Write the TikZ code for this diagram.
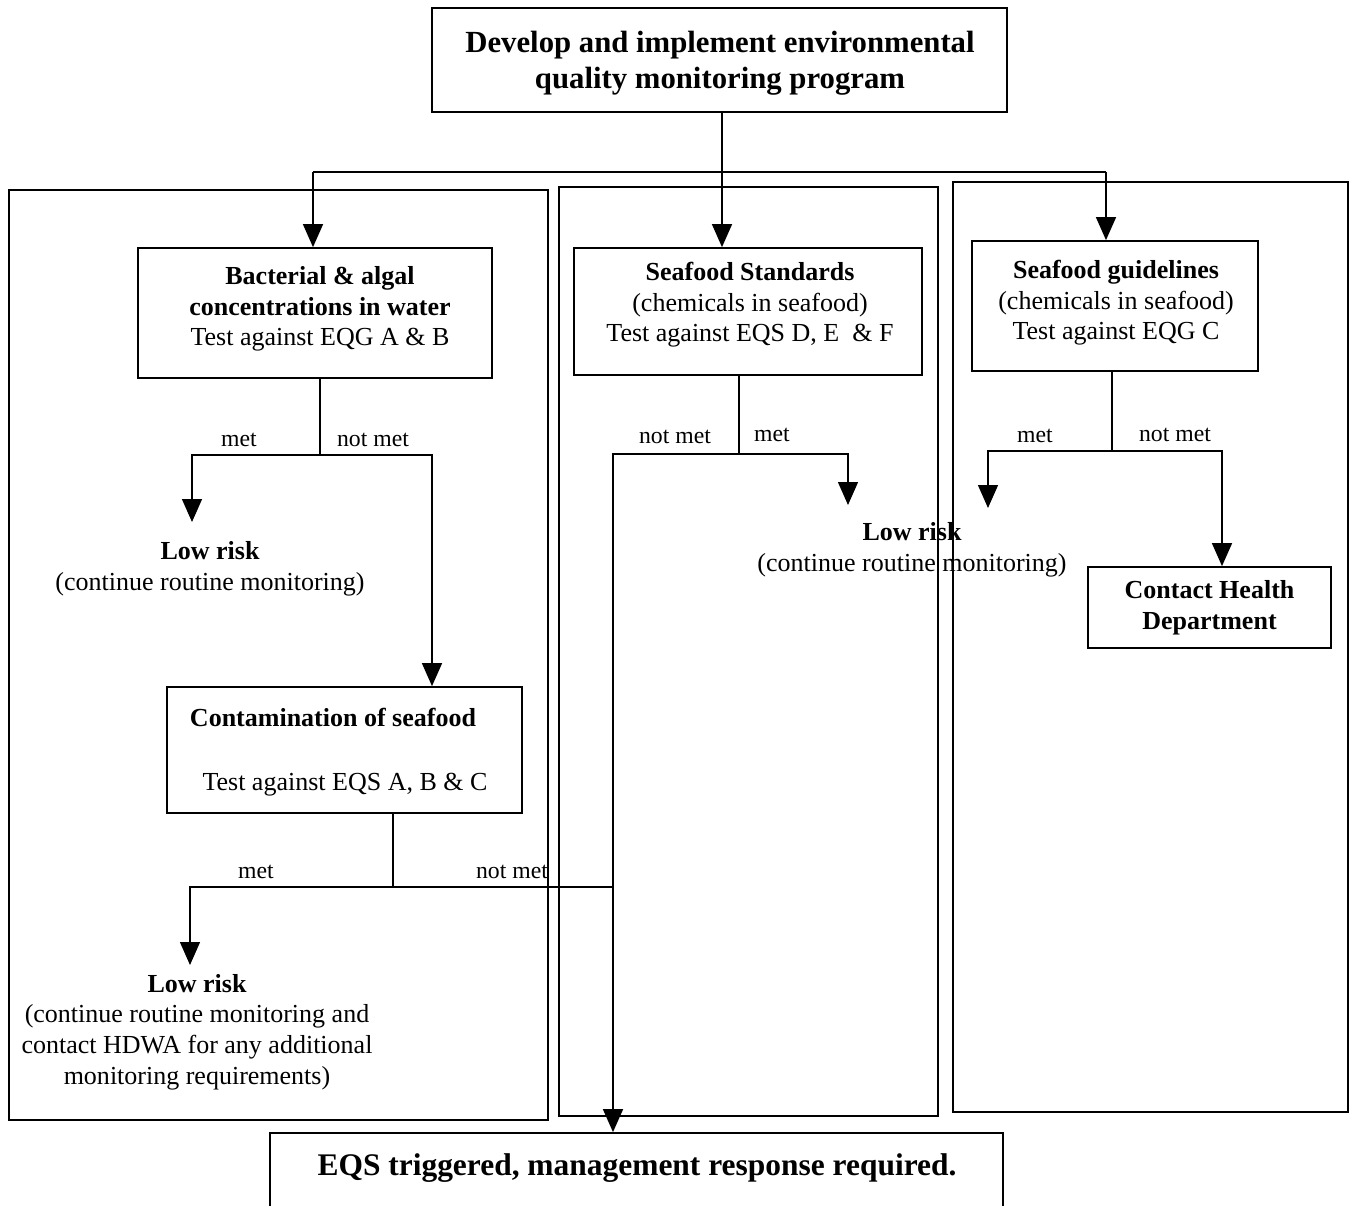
\documentclass[tikz,border=0pt]{standalone}
\usepackage{fontspec}
\setmainfont{Liberation Serif}
\usetikzlibrary{arrows.meta}
\newcommand\fsbody{\fontsize{14.8}{17.4}\selectfont}
\newcommand\fstitle{\fontsize{17.5}{20.6}\selectfont}
\newcommand\fslab{\fontsize{13.5}{16}\selectfont}
\begin{document}
\begin{tikzpicture}[
  x=0.02cm, y=-0.02cm,
  box/.style={draw, line width=1pt, inner sep=0pt, align=center, font=\fsbody},
  panel/.style={draw, line width=0.8pt},
  conn/.style={line width=0.8pt},
  arr/.style={conn, -{Triangle[width=0.4cm,length=0.46cm]}},
  txt/.style={inner sep=0pt, align=center, font=\fsbody},
  lab/.style={inner sep=0pt, font=\fslab}
]
\clip (0,0) rectangle (1350,1206);

% three column frames
\draw[panel] (9,190) rectangle (548,1120);
\draw[panel] (559,187) rectangle (938,1116);
\draw[panel] (953,182) rectangle (1348,1112);

% boxes
\node[box, font=\fstitle\bfseries, minimum width=11.5cm, minimum height=2.08cm]
  (top) at (719.5,60) {};
\node[txt, font=\fstitle\bfseries] (topT) at (720,63) {Develop and implement environmental\\quality monitoring program};
\node[box, minimum width=7.08cm, minimum height=2.6cm] (bact) at (315,313) {};
\node[txt] (bactT) at (320,309)
  {\textbf{Bacterial \& algal}\\\textbf{concentrations in water}\\Test against EQG A \& B};
\node[box, minimum width=6.96cm, minimum height=2.54cm] (std) at (748,311.5) {};
\node[txt] (stdT) at (750,305)
  {\textbf{Seafood Standards}\\(chemicals in seafood)\\Test against EQS D, E~ \& F};
\node[box, minimum width=5.72cm, minimum height=2.6cm] (gl) at (1115,306) {};
\node[txt] (glT) at (1116,303)
  {\textbf{Seafood guidelines}\\(chemicals in seafood)\\Test against EQG C};
\node[box, font=\fsbody\bfseries, minimum width=4.86cm, minimum height=1.62cm] (chd) at (1209.5,607.5)
  {Contact Health\\Department};
\node[box, minimum width=7.1cm, minimum height=2.52cm] (cont) at (344.5,750) {};
\node[txt, font=\fsbody\bfseries] (contA) at (333,717) {Contamination of seafood};
\node[txt] (contB) at (345,785) {Test against EQS A, B \& C};
\node[box, minimum width=14.66cm, minimum height=2.3cm] (eqs) at (636.5,1190.5) {};
\node[txt, font=\fontsize{17.9}{21}\selectfont\bfseries] (eqsT) at (637,1168)
  {EQS triggered, management response required.};

% outcome texts
\node[txt] (lr1) at (210,569) {\textbf{Low risk}\\(continue routine monitoring)};
\node[txt] (lr2) at (912,550) {\textbf{Low risk}\\(continue routine monitoring)};
\node[txt] (lr3) at (197,1032) {\textbf{Low risk}\\(continue routine monitoring and\\contact HDWA for any additional\\monitoring requirements)};

% branch labels
\node[lab] (b1) at (239,440) {met};
\node[lab] (b2) at (373,440) {not met};
\node[lab] (b3) at (675,437) {not met};
\node[lab] (b4) at (772,435) {met};
\node[lab] (b5) at (1035,436) {met};
\node[lab] (b6) at (1175,435) {not met};
\node[lab] (b7) at (256,872) {met};
\node[lab] (b8) at (512,872) {not met};

% junctions and free arrow ends
\coordinate (j0) at (722,172);
\coordinate (jl) at (313,172);
\coordinate (jr) at (1106,172);
\coordinate (j1) at (320,455);
\coordinate (j2) at (393,887);
\coordinate (j3) at (739,454);
\coordinate (j4) at (1112,451);
\coordinate (c1) at (432,0);
\coordinate (c2) at (613,0);
\coordinate (c3) at (1222,0);
\coordinate (m1) at (192,522);
\coordinate (m2) at (190,965);
\coordinate (m3) at (848,505);
\coordinate (m4) at (988,508);

% distribution from the programme box
\draw[conn] (top.south -| j0) -- (j0);
\draw[conn] (jl) -- (jr);
\draw[arr] (jl) -- (jl |- bact.north);
\draw[arr] (j0) -- (j0 |- std.north);
\draw[arr] (jr) -- (jr |- gl.north);

% water quality branch
\draw[conn] (j1 |- bact.south) -- (j1);
\draw[arr] (j1) -| (m1);
\draw[arr] (j1) -| (c1 |- cont.north);
\draw[conn] (j2 |- cont.south) -- (j2);
\draw[arr] (j2) -| (m2);
\draw[conn] (j2) -- (c2 |- j2);

% seafood standards branch
\draw[conn] (j3 |- std.south) -- (j3);
\draw[arr] (j3) -| (m3);
\draw[arr] (j3) -| (c2 |- eqs.north);

% seafood guidelines branch
\draw[conn] (j4 |- gl.south) -- (j4);
\draw[arr] (j4) -| (m4);
\draw[arr] (j4) -| (c3 |- chd.north);
\end{tikzpicture}
\end{document}
